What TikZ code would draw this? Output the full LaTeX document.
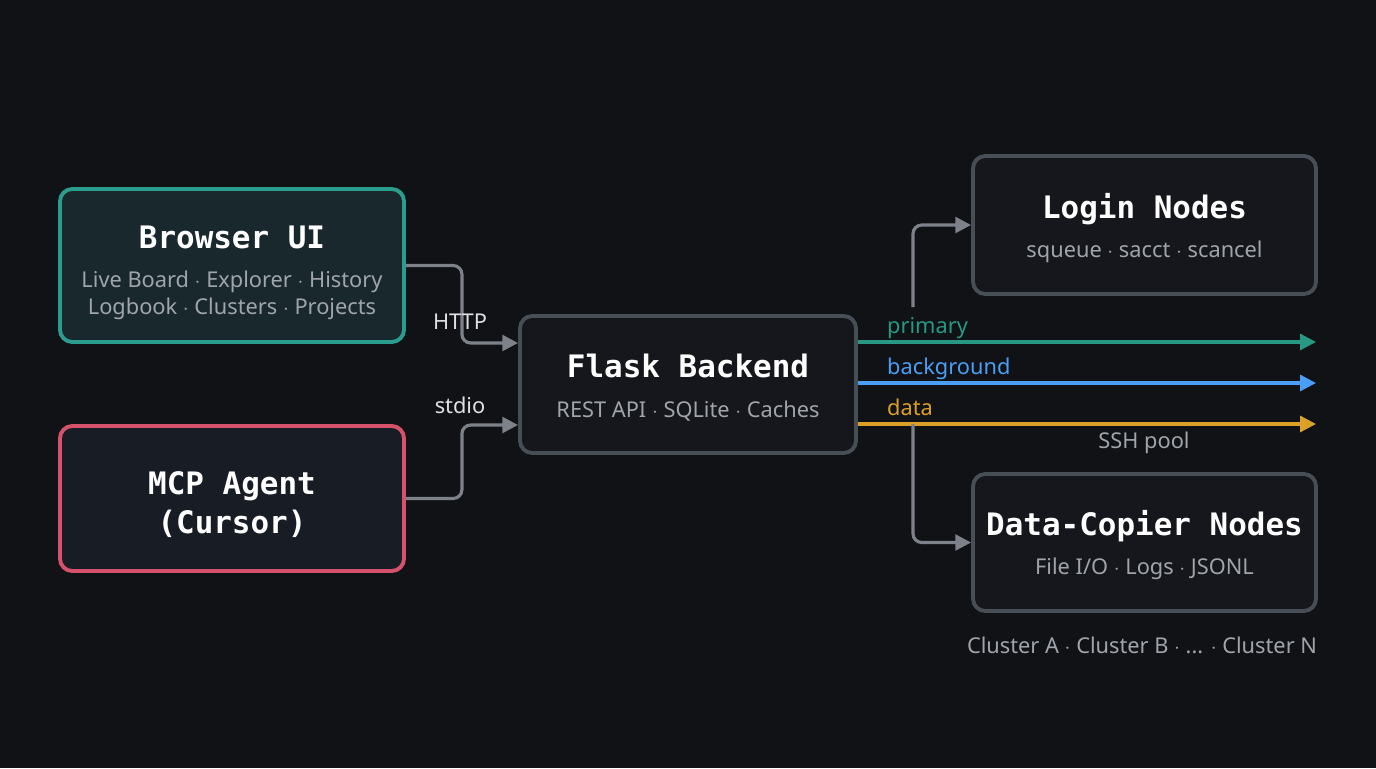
\documentclass[tikz,border=0pt]{standalone}
\usepackage{fontspec}
\setmainfont{Noto Sans}
\setmonofont{DejaVu Sans Mono}
\usetikzlibrary{arrows.meta,calc,positioning}
\definecolor{bgdark}{RGB}{17,18,22}
\definecolor{tealbd}{RGB}{42,157,143}
\definecolor{tealfl}{RGB}{24,40,44}
\definecolor{pinkbd}{RGB}{214,82,108}
\definecolor{pinkfl}{RGB}{24,29,37}
\definecolor{graybd}{RGB}{72,78,86}
\definecolor{grayfl}{RGB}{21,23,28}
\definecolor{connc}{RGB}{125,130,138}
\definecolor{subc}{RGB}{160,165,172}
\definecolor{lblc}{RGB}{222,224,228}
\definecolor{primc}{RGB}{38,152,132}
\definecolor{backc}{RGB}{74,158,245}
\definecolor{datac}{RGB}{218,160,40}
\newcommand{\ttl}{\ttfamily\bfseries\fontsize{17.6}{21.6}\selectfont\color{white}}
\newcommand{\subf}{\fontsize{12.4}{15.4}\selectfont\color{subc}}
\newcommand{\tstr}[1]{\rule{0pt}{#1pt}}

\begin{document}
\begin{tikzpicture}[>={Triangle[length=9pt,width=9pt]},
  box/.style={draw=graybd,fill=grayfl,line width=2.2pt,rounded corners=7pt,align=center,
              minimum width=6.86cm,minimum height=2.74cm,font=\subf},
  conn/.style={->,connc,line width=1.8pt,rounded corners=5pt},
  lbl/.style={font=\fontsize{12.4}{15}\selectfont,text=lblc},
  flow/.style={->,line width=1.8pt}]
  \fill[bgdark] (0,0) rectangle (27.52,-15.36);
  \node[box,draw=tealbd,fill=tealfl,minimum width=6.88cm,minimum height=3.06cm](br) at (4.64,-5.31)
    {{\ttl\tstr{21}Browser UI}\\[7pt]Live Board $\cdot$ Explorer $\cdot$ History\\Logbook $\cdot$ Clusters $\cdot$ Projects};
  \node[box,draw=pinkbd,fill=pinkfl,minimum width=6.88cm,minimum height=2.9cm](mcp) at (4.64,-9.97)
    {\ttl\tstr{20}MCP Agent\\[4pt]\ttl (Cursor)};
  \node[box,minimum width=6.72cm](fl) at (13.76,-7.69)
    {{\ttl\tstr{17}Flask Backend}\\[7pt]REST API $\cdot$ SQLite $\cdot$ Caches};
  \node[box,minimum height=2.76cm](lg) at (22.89,-4.5)
    {{\ttl\tstr{18}Login Nodes}\\[7pt]squeue $\cdot$ sacct $\cdot$ scancel};
  \node[box](dc) at (22.89,-10.85)
    {{\ttl\tstr{17}Data-Copier Nodes}\\[7pt]File I/O $\cdot$ Logs $\cdot$ JSONL};
  \node[font=\subf](cl) at (22.84,-12.9) {Cluster A $\cdot$ Cluster B $\cdot$ ... $\cdot$ Cluster N};
  % left inputs
  \draw[conn](br.east) -- ++(1.12,0) |- ([yshift=0.83cm]fl.west);
  \draw[conn](mcp.east) -- ++(1.12,0) |- ([yshift=-0.81cm]fl.west);
  \node[lbl](http) at (9.2,-6.44) {HTTP};
  \node[lbl](stdio) at (9.2,-8.1) {stdio};
  % ssh pool lanes
  \coordinate(pe) at (26.32,-6.84);
  \coordinate(be) at (26.32,-7.66);
  \coordinate(de) at (26.32,-8.48);
  \draw[flow,primc](fl.east |- pe) -- (pe);
  \draw[flow,backc](fl.east |- be) -- (be);
  \draw[flow,datac](fl.east |- de) -- (de);
  \node[lbl,text=primc,anchor=base west](pl) at (17.62,-6.66) {primary};
  \node[lbl,text=backc,anchor=base west](bl) at (17.62,-7.48) {background};
  \node[lbl,text=datac,anchor=base west](dl) at (17.62,-8.3) {data};
  \node[font=\subf](ssh) at (22.88,-8.86) {SSH pool};
  % to the clusters
  \coordinate(lg0) at (18.26,-6.14);
  \coordinate(dc0) at (18.26,-8.48);
  \draw[conn](lg0) |- (lg.west);
  \draw[conn](dc0) |- (dc.west);
\end{tikzpicture}
\end{document}
